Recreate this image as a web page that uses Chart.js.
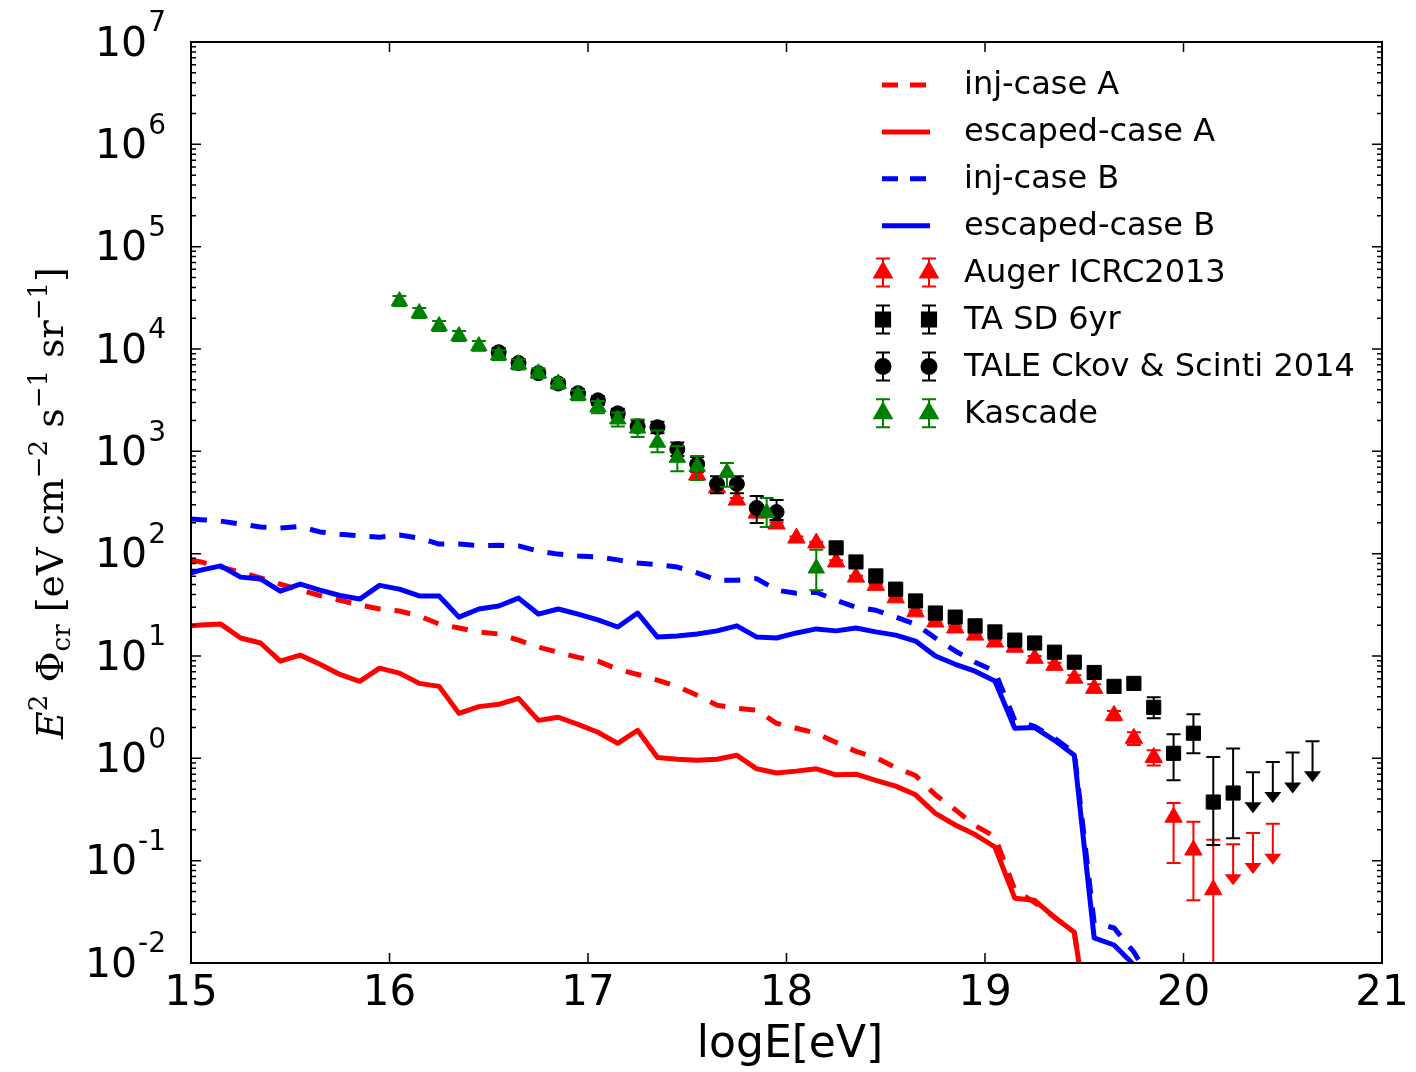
<!DOCTYPE html>
<html>
<head>
<meta charset="utf-8">
<script src="https://cdn.jsdelivr.net/npm/chart.js@4.4.1/dist/chart.umd.min.js"></script>
<style>
  html, body { margin: 0; padding: 0; background: #fff; }
  canvas { display: block; }
</style>
</head>
<body>
<canvas id="crChart" width="1416" height="1072"></canvas>
<script>
// =====================
// Data (log E in eV, E^2 flux in eV cm^-2 s^-1 sr^-1)
// =====================

// model curves, read at the bin centres
const curveE = [15.0, 15.05, 15.15, 15.25, 15.35, 15.45, 15.55, 15.65, 15.75, 15.85, 15.95,
  16.05, 16.15, 16.25, 16.35, 16.45, 16.55, 16.65, 16.75, 16.85, 16.95,
  17.05, 17.15, 17.25, 17.35, 17.45, 17.55, 17.65, 17.75, 17.85, 17.95,
  18.05, 18.15, 18.25, 18.35, 18.45, 18.55, 18.65, 18.75, 18.85, 18.95,
  19.05, 19.15, 19.25, 19.35, 19.45, 19.55, 19.65, 19.75, 19.85];

const injA = [87, 83, 74, 66, 58, 50.5, 44, 39, 35, 31.5, 28.8,
  27.5, 24.6, 20.5, 18.8, 17.2, 16.4, 14.3, 12.2, 10.9, 9.7,
  8.9, 7.4, 6.6, 5.8, 5.05, 4.13, 3.3, 3.08, 2.95, 2.2,
  1.97, 1.76, 1.43, 1.17, 1.02, 0.81, 0.68, 0.44, 0.315, 0.22,
  0.172, 0.052, 0.039, 0.028, 0.0197, 0.001];

const escA = [19.7, 20.1, 20.5, 15.0, 13.4, 8.9, 10.2, 8.3, 6.6, 5.66, 7.6,
  6.8, 5.4, 5.05, 2.75, 3.2, 3.37, 3.86, 2.35, 2.52, 2.15,
  1.8, 1.4, 1.88, 1.02, 0.98, 0.96, 0.98, 1.07, 0.79, 0.72,
  0.75, 0.79, 0.69, 0.70, 0.61, 0.535, 0.44, 0.29, 0.223, 0.18,
  0.136, 0.043, 0.041, 0.028, 0.020, 0.001];

const injB = [218, 215, 208, 195, 182, 178, 184, 163, 155, 149, 145,
  152, 142, 124, 124, 120, 121, 119, 106, 99, 95,
  93, 87, 81, 78, 74, 65, 55, 55, 57, 44,
  41, 42, 35, 30, 28, 24, 20.5, 15, 11.2, 8.7,
  7.1, 2.35, 2.05, 1.57, 1.14, 0.0246, 0.022, 0.0128, 0.006];

const escB = [65, 69, 76, 59, 56.6, 43, 50.5, 44, 39, 36, 49,
  45, 38.6, 38.6, 24, 28.8, 30.8, 36.8, 25.7, 28.8, 25.7,
  22.5, 19.2, 26.3, 15.3, 15.7, 16.4, 17.6, 19.7, 15.3, 15.0,
  16.8, 18.4, 17.6, 18.8, 17.2, 16.0, 14.0, 10.0, 8.3, 7.1,
  5.7, 1.97, 2.0, 1.5, 1.07, 0.0176, 0.015, 0.0096];

// Auger ICRC2013
const augerE = [17.55, 17.65, 17.75, 17.85, 17.95, 18.05, 18.15, 18.25, 18.35, 18.45,
  18.55, 18.65, 18.75, 18.85, 18.95, 19.05, 19.15, 19.25, 19.35, 19.45,
  19.55, 19.65, 19.75, 19.85, 19.95, 20.05, 20.15];
const augerFlux = [586, 440, 334, 249, 195, 142, 127, 83, 59, 49,
  37, 27, 21.5, 18.8, 16, 13.7, 12.2, 9.5, 8.1, 6.06,
  4.84, 2.63, 1.57, 1.02, 0.266, 0.127, 0.052];
const augerLo = [550, 415, 318, 238, 187, 137, 123, 80, 57, 47.5,
  36, 26.2, 20.8, 18.1, 15.4, 13.1, 11.6, 9.0, 7.6, 5.6,
  4.4, 2.35, 1.35, 0.85, 0.095, 0.041, 0.001];
const augerHi = [625, 465, 350, 260, 203, 147, 131, 86, 61, 50.5,
  38, 27.8, 22.2, 19.5, 16.6, 14.3, 12.8, 10.0, 8.6, 6.5,
  5.3, 2.9, 1.8, 1.2, 0.366, 0.24, 0.16];
const augerLimE = [20.25, 20.35, 20.45];
const augerLimFlux = [0.145, 0.186, 0.23];

// TA SD 6yr
const taE = [18.25, 18.35, 18.45, 18.55, 18.65, 18.75, 18.85, 18.95, 19.05, 19.15,
  19.25, 19.35, 19.45, 19.55, 19.65, 19.75, 19.85, 19.95, 20.05, 20.15, 20.25];
const taFlux = [114, 83, 60.6, 45, 34.5, 26.3, 24, 19.7, 17.2, 14.3,
  13.4, 10.9, 8.7, 6.9, 5.05, 5.4, 3.15, 1.12, 1.76, 0.374, 0.458];
const taLo = [110, 80, 58.5, 43.5, 33.3, 25.3, 23, 18.9, 16.4, 13.6,
  12.6, 10.2, 8.1, 6.4, 4.65, 4.95, 2.46, 0.61, 1.12, 0.142, 0.166];
const taHi = [118, 86, 62.7, 46.5, 35.7, 27.3, 25, 20.5, 18, 15,
  14.2, 11.6, 9.3, 7.4, 5.45, 5.85, 3.95, 1.72, 2.7, 1.03, 1.25];
const taLimE = [20.35, 20.45, 20.55, 20.65];
const taLimFlux = [0.73, 0.92, 1.14, 1.47];

// TALE Ckov & Scinti 2014
const taleE = [16.55, 16.65, 16.75, 16.85, 16.95, 17.05, 17.15, 17.25, 17.35, 17.45,
  17.55, 17.65, 17.75, 17.85, 17.95];
const taleFlux = [9300, 7300, 5800, 4600, 3700, 3150, 2350, 1760, 1720, 1050,
  750, 480, 480, 280, 255];
const taleLo = [8500, 6700, 5300, 4200, 3400, 2850, 2100, 1550, 1500, 900,
  640, 390, 390, 199, 213];
const taleHi = [10200, 8000, 6300, 5000, 4050, 3450, 2600, 2000, 1950, 1220,
  880, 570, 570, 366, 334];

// Kascade
const kascadeE = [16.05, 16.15, 16.25, 16.35, 16.45, 16.55, 16.65, 16.75, 16.85, 16.95,
  17.05, 17.15, 17.25, 17.35, 17.45, 17.55, 17.70, 17.90, 18.15];
const kascadeFlux = [29400, 22500, 16800, 13400, 10700, 8700, 7100, 5800, 4600, 3530,
  2700, 2060, 1680, 1220, 870, 710, 620, 250, 72];
const kascadeLo = [26300, 20100, 15000, 12000, 9600, 7800, 6300, 5200, 4100, 3150,
  2350, 1750, 1380, 980, 640, 525, 450, 182, 44];
const kascadeHi = [32900, 25200, 18800, 15000, 12000, 9700, 7900, 6500, 5100, 3950,
  3100, 2400, 2050, 1600, 1120, 900, 770, 350, 109];

// axis ticks
const xTicks = [15, 16, 17, 18, 19, 20, 21];
const xTickLabels = ['15', '16', '17', '18', '19', '20', '21'];
const yDecades = [-2, -1, 0, 1, 2, 3, 4, 5, 6, 7];
const yTickExps = ['-2', '-1', '0', '1', '2', '3', '4', '5', '6', '7'];

const RED = '#ff0000', BLUE = '#0000ff', GREEN = '#008000', BLACK = '#000000';
const FONT = '"DejaVu Sans", Arial, sans-serif';

const pts = (xs, ys) => ys.map((v, i) => ({ x: xs[i], y: v }));

// =====================
// Plugins
// =====================
function drawBar(ctx, px, top, bot, cap) {
    ctx.beginPath();
    ctx.moveTo(px, top); ctx.lineTo(px, bot);
    ctx.moveTo(px - cap, top); ctx.lineTo(px + cap, top);
    ctx.moveTo(px - cap, bot); ctx.lineTo(px + cap, bot);
    ctx.stroke();
}

function drawLimit(ctx, px, py, color) {
    ctx.strokeStyle = color;
    ctx.fillStyle = color;
    ctx.lineWidth = 2;
    ctx.beginPath();
    ctx.moveTo(px - 7, py); ctx.lineTo(px + 7, py);
    ctx.moveTo(px, py); ctx.lineTo(px, py + 31);
    ctx.stroke();
    ctx.beginPath();
    ctx.moveTo(px - 8.5, py + 30);
    ctx.lineTo(px + 8.5, py + 30);
    ctx.lineTo(px, py + 41);
    ctx.closePath();
    ctx.fill();
}

const errorBars = {
    id: 'errorBars',
    beforeDatasetDraw(chart, args) {
        const ds = chart.data.datasets[args.index];
        if (!ds.errLo && !ds.upperLimit) return;
        const { ctx, chartArea: a, scales: { x, y } } = chart;
        ctx.save();
        ctx.beginPath();
        ctx.rect(a.left, a.top, a.right - a.left, a.bottom - a.top);
        ctx.clip();
        ds.data.forEach((p, i) => {
            const px = x.getPixelForValue(p.x);
            if (ds.upperLimit) {
                drawLimit(ctx, px, y.getPixelForValue(p.y), ds.borderColor);
            } else {
                ctx.strokeStyle = ds.borderColor;
                ctx.lineWidth = 2;
                drawBar(ctx, px, y.getPixelForValue(ds.errHi[i]), y.getPixelForValue(ds.errLo[i]), 7);
            }
        });
        ctx.restore();
    }
};

const axesFrame = {
    id: 'axesFrame',
    afterDraw(chart) {
        const { ctx, chartArea: a, scales: { x, y } } = chart;
        ctx.save();
        ctx.strokeStyle = BLACK;
        ctx.lineWidth = 1.5;
        ctx.beginPath();
        xTicks.forEach(v => {
            const px = x.getPixelForValue(v);
            ctx.moveTo(px, a.bottom); ctx.lineTo(px, a.bottom - 10);
            ctx.moveTo(px, a.top); ctx.lineTo(px, a.top + 10);
        });
        yDecades.forEach(k => {
            for (let m = 1; m <= 9; m++) {
                const v = m * Math.pow(10, k);
                if (v < y.min * 0.999 || v > y.max * 1.001) continue;
                const py = y.getPixelForValue(v);
                const len = m === 1 ? 10 : 5;
                ctx.moveTo(a.left, py); ctx.lineTo(a.left + len, py);
                ctx.moveTo(a.right, py); ctx.lineTo(a.right - len, py);
            }
        });
        ctx.stroke();
        ctx.lineWidth = 2;
        ctx.strokeRect(a.left, a.top, a.right - a.left, a.bottom - a.top);

        // tick labels
        ctx.fillStyle = BLACK;
        ctx.textBaseline = 'middle';
        ctx.textAlign = 'center';
        ctx.font = `42px ${FONT}`;
        xTicks.forEach((v, i) => {
            ctx.fillText(xTickLabels[i], x.getPixelForValue(v), a.bottom + 31);
        });
        yDecades.forEach((k, i) => {
            const py = y.getPixelForValue(Math.pow(10, k));
            ctx.font = `28px ${FONT}`;
            ctx.textAlign = 'right';
            const ew = ctx.measureText(yTickExps[i]).width;
            ctx.fillText(yTickExps[i], 166, py - 18);
            ctx.font = `41px ${FONT}`;
            ctx.fillText('10', 166 - ew - 1, py + 3);
        });

        // x title
        ctx.textAlign = 'center';
        ctx.font = `44px ${FONT}`;
        ctx.fillText('logE[eV]', 790, 1046);

        // y title, rotated
        const serif = '"DejaVu Serif", "Liberation Serif", serif';
        const runs = [
            { t: 'E', f: `italic 38px ${serif}`, dy: 0 },
            { t: '2', f: `26px ${serif}`, dy: -16 },
            { t: ' Φ', f: `38px ${serif}`, dy: 0 },
            { t: 'cr', f: `26px ${serif}`, dy: 7 },
            { t: ' [eV cm', f: `38px ${serif}`, dy: 0 },
            { t: '−2', f: `26px ${serif}`, dy: -16 },
            { t: ' s', f: `38px ${serif}`, dy: 0 },
            { t: '−1', f: `26px ${serif}`, dy: -16 },
            { t: ' sr', f: `38px ${serif}`, dy: 0 },
            { t: '−1', f: `26px ${serif}`, dy: -16 },
            { t: ']', f: `38px ${serif}`, dy: 0 }
        ];
        let total = 0;
        runs.forEach(r => { ctx.font = r.f; r.w = ctx.measureText(r.t).width; total += r.w; });
        ctx.translate(63, 503);
        ctx.rotate(-Math.PI / 2);
        ctx.textAlign = 'left';
        ctx.textBaseline = 'alphabetic';
        let cx = -total / 2;
        runs.forEach(r => { ctx.font = r.f; ctx.fillText(r.t, cx, r.dy); cx += r.w; });
        ctx.restore();
    }
};

const legendRows = [
    { label: 'inj-case A', kind: 'line', color: RED, dash: [16, 12] },
    { label: 'escaped-case A', kind: 'line', color: RED, dash: [] },
    { label: 'inj-case B', kind: 'line', color: BLUE, dash: [16, 12] },
    { label: 'escaped-case B', kind: 'line', color: BLUE, dash: [] },
    { label: 'Auger ICRC2013', kind: 'point', color: RED, style: 'triangle', r: 10 },
    { label: 'TA SD 6yr', kind: 'point', color: BLACK, style: 'rect', r: 10 },
    { label: 'TALE Ckov & Scinti 2014', kind: 'point', color: BLACK, style: 'circle', r: 7.5 },
    { label: 'Kascade', kind: 'point', color: GREEN, style: 'triangle', r: 10 }
];

const legendBox = {
    id: 'legendBox',
    afterDraw(chart) {
        const { ctx } = chart;
        ctx.save();
        legendRows.forEach((row, i) => {
            const ly = 85 + i * 46.9;
            if (row.kind === 'line') {
                ctx.strokeStyle = row.color;
                ctx.lineWidth = 5;
                ctx.setLineDash(row.dash);
                ctx.beginPath();
                ctx.moveTo(882, ly); ctx.lineTo(930, ly);
                ctx.stroke();
                ctx.setLineDash([]);
            } else {
                [883, 929].forEach(mx => {
                    ctx.strokeStyle = row.color;
                    ctx.fillStyle = row.color;
                    ctx.lineWidth = 2;
                    drawBar(ctx, mx, ly - 14, ly + 14, 7);
                    Chart.helpers.drawPoint(ctx, { pointStyle: row.style, radius: row.r, rotation: 0, borderWidth: 1 }, mx, ly);
                });
            }
            ctx.fillStyle = BLACK;
            ctx.font = `32px ${FONT}`;
            ctx.textAlign = 'left';
            ctx.textBaseline = 'middle';
            ctx.fillText(row.label, 964, ly + 1);
        });
        ctx.restore();
    }
};

// =====================
// Chart
// =====================
const lineSet = (label, data, color, dash, order) => ({
    label, data: pts(curveE, data), borderColor: color, backgroundColor: color,
    borderWidth: 5, borderDash: dash, borderJoinStyle: 'round',
    showLine: true, pointRadius: 0, tension: 0, clip: 0, order
});

const markerSet = (label, xs, ys, lo, hi, color, style, r, order) => ({
    label, data: pts(xs, ys), errLo: lo, errHi: hi,
    borderColor: color, backgroundColor: color, borderWidth: 1,
    pointStyle: style, pointRadius: r, pointHoverRadius: r, order
});

const limitSet = (label, xs, ys, color, order) => ({
    label, data: pts(xs, ys), upperLimit: true,
    borderColor: color, backgroundColor: color, pointRadius: 0, order
});

new Chart(document.getElementById('crChart'), {
    type: 'scatter',
    data: {
        datasets: [
            markerSet('Kascade', kascadeE, kascadeFlux, kascadeLo, kascadeHi, GREEN, 'triangle', 9.5, 0),
            markerSet('TALE Ckov & Scinti 2014', taleE, taleFlux, taleLo, taleHi, BLACK, 'circle', 7.5, 1),
            markerSet('TA SD 6yr', taE, taFlux, taLo, taHi, BLACK, 'rect', 10, 2),
            limitSet('TA SD limits', taLimE, taLimFlux, BLACK, 3),
            markerSet('Auger ICRC2013', augerE, augerFlux, augerLo, augerHi, RED, 'triangle', 10, 4),
            limitSet('Auger limits', augerLimE, augerLimFlux, RED, 5),
            lineSet('escaped-case B', escB, BLUE, [], 6),
            lineSet('inj-case B', injB, BLUE, [16, 14], 7),
            lineSet('escaped-case A', escA, RED, [], 8),
            lineSet('inj-case A', injA, RED, [16, 14], 9)
        ]
    },
    options: {
        responsive: false,
        animation: false,
        events: [],
        layout: { padding: { left: 191, right: 34, top: 42, bottom: 109 } },
        plugins: { legend: { display: false }, tooltip: { enabled: false } },
        scales: {
            x: {
                type: 'linear', min: 15, max: 21,
                grid: { display: false }, border: { display: false },
                ticks: { display: false },
                afterFit: s => { s.height = 0; }
            },
            y: {
                type: 'logarithmic', min: 0.01, max: 1e7,
                grid: { display: false }, border: { display: false },
                ticks: { display: false },
                afterFit: s => { s.width = 0; }
            }
        }
    },
    plugins: [errorBars, axesFrame, legendBox]
});
</script>
</body>
</html>
